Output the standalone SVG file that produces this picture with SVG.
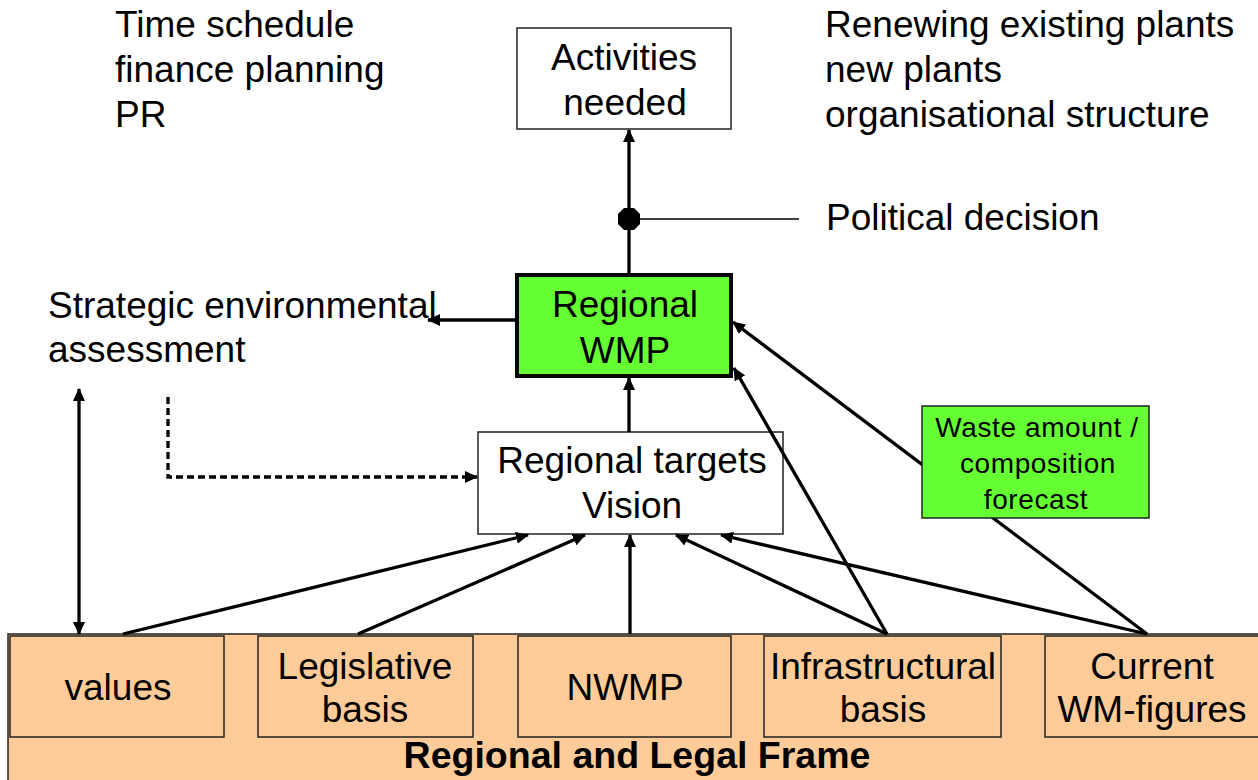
<svg xmlns="http://www.w3.org/2000/svg" width="1258" height="780" viewBox="0 0 1258 780">
<style>
text{font-family:"Liberation Sans",Arial,sans-serif;font-size:37px;fill:#000}
.c{text-anchor:middle}
.b{font-weight:bold;font-size:37.5px}
.w{font-size:28px;letter-spacing:0.6px}
.box{stroke:#222;stroke-width:1.5}
.org{fill:#FFCC99;stroke:#222;stroke-width:1.5}
.ln{fill:none;stroke:#000;stroke-width:3.3}
</style>
<defs>
<marker id="ah" markerUnits="userSpaceOnUse" markerWidth="13" markerHeight="12" refX="12" refY="6" orient="auto-start-reverse">
<path d="M0,0 L13,6 L0,12 z" fill="#000"/>
</marker>
</defs>
<rect width="1258" height="780" fill="#fff"/>
<g id="frame">
<rect class="org" x="8" y="634" width="1262" height="160"/>
<text class="b c" x="637" y="768">Regional and Legal Frame</text>
</g>
<g id="values"><rect class="org" x="10" y="636" width="214" height="101"/><text class="c" x="118" y="700">values</text></g>
<g id="legislative"><rect class="org" x="258" y="636" width="215" height="101"/><text class="c" x="365" y="679">Legislative</text><text class="c" x="365" y="722">basis</text></g>
<g id="nwmp"><rect class="org" x="518" y="636" width="213" height="101"/><text class="c" x="625" y="700">NWMP</text></g>
<g id="infrastructural"><rect class="org" x="764" y="636" width="237" height="101"/><text class="c" x="883" y="679">Infrastructural</text><text class="c" x="883" y="722">basis</text></g>
<g id="current"><rect class="org" x="1045" y="636" width="215" height="101"/><text class="c" x="1152" y="679">Current</text><text class="c" x="1152" y="722">WM-figures</text></g>
<g id="activities"><rect class="box" x="517" y="28" width="214" height="101" fill="#fff"/><text class="c" x="624" y="70">Activities</text><text class="c" x="625" y="115">needed</text></g>
<g id="wmp"><rect x="517" y="275" width="214" height="101" fill="#66FF33" stroke="#000" stroke-width="4"/><text class="c" x="625" y="317">Regional</text><text class="c" x="625" y="363">WMP</text></g>
<g id="targets"><rect class="box" x="478" y="432" width="305" height="102" fill="#fff"/><text class="c" x="632" y="473">Regional targets</text><text class="c" x="632" y="518">Vision</text></g>
<g id="notes">
<text x="115" y="37">Time schedule</text>
<text x="115" y="82">finance planning</text>
<text x="115" y="127">PR</text>
<text x="825" y="37">Renewing existing plants</text>
<text x="825" y="82">new plants</text>
<text x="825" y="127">organisational structure</text>
<text x="826" y="230">Political decision</text>
<text x="48" y="318">Strategic environmental</text>
<text x="48" y="362">assessment</text>
</g>
<g id="connectors">
<line class="ln" x1="629" y1="273" x2="629" y2="130" stroke-width="4" marker-end="url(#ah)"/>
<line x1="629" y1="219" x2="799" y2="219" stroke="#000" stroke-width="1.5"/>
<polygon points="624,208 634,208 640,214 640,224 634,230 624,230 618,224 618,214" fill="#000"/>
<line class="ln" x1="516" y1="320" x2="428" y2="320" marker-end="url(#ah)"/>
<line class="ln" x1="629" y1="432" x2="629" y2="378" marker-end="url(#ah)"/>
<line class="ln" x1="79" y1="389" x2="79" y2="634" marker-start="url(#ah)" marker-end="url(#ah)"/>
<path class="ln" d="M168,397 V477 H477" stroke-width="2.5" stroke-dasharray="7,4" marker-end="url(#ah)"/>
<line class="ln" x1="123" y1="634" x2="528" y2="535" marker-end="url(#ah)"/>
<line class="ln" x1="358" y1="634" x2="585" y2="535" marker-end="url(#ah)"/>
<line class="ln" x1="630" y1="634" x2="630" y2="535" marker-end="url(#ah)"/>
<line class="ln" x1="887" y1="634" x2="676" y2="535" marker-end="url(#ah)"/>
<line class="ln" x1="1147" y1="634" x2="721" y2="535" marker-end="url(#ah)"/>
<line class="ln" x1="887" y1="634" x2="734" y2="368" marker-end="url(#ah)"/>
<line class="ln" x1="1147" y1="634" x2="733" y2="322" marker-end="url(#ah)"/>
</g>
<g id="waste"><rect class="box" x="922" y="406" width="227" height="112" fill="#66FF33"/><text class="w c" x="1037" y="437">Waste amount /</text><text class="w c" x="1038" y="473">composition</text><text class="w c" x="1036" y="509">forecast</text></g>
</svg>
